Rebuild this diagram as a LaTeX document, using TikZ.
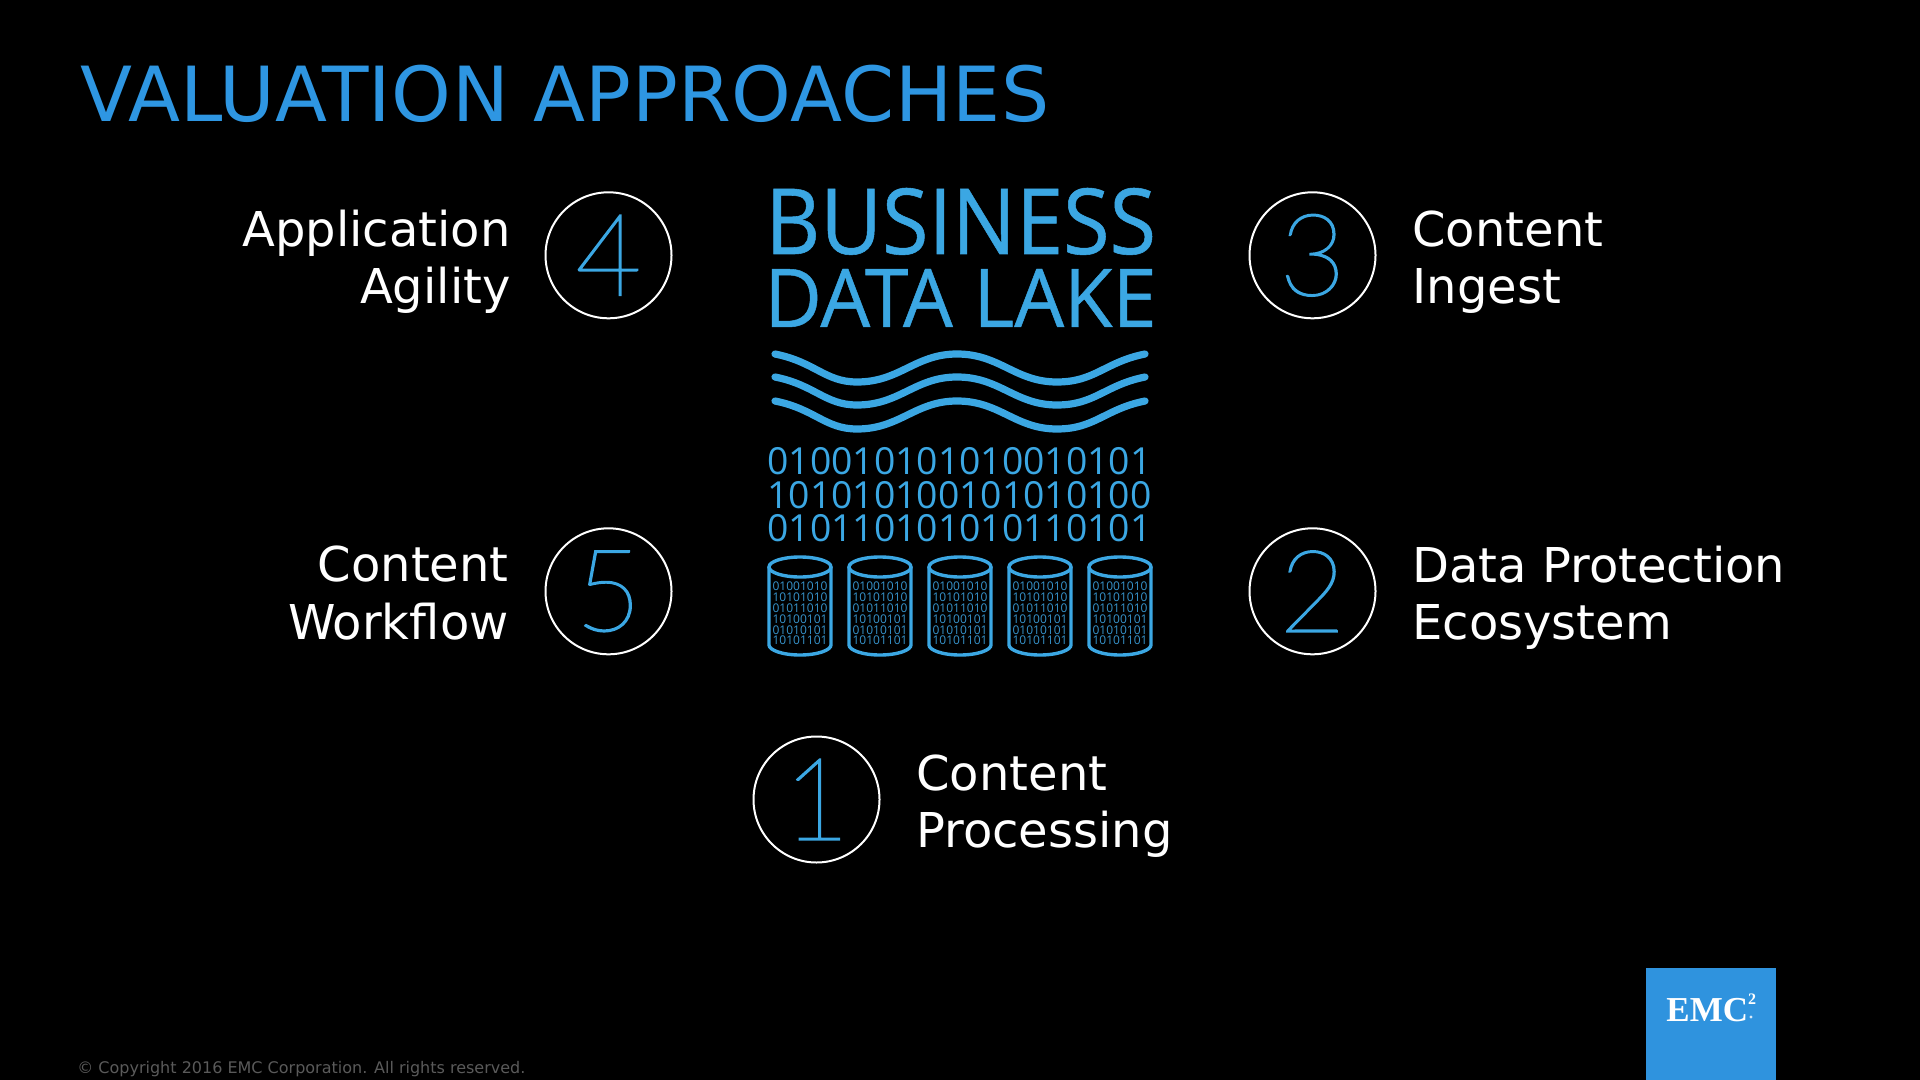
\documentclass[tikz,border=0pt]{standalone}
\usepackage{fontspec}
\setmainfont{DejaVu Sans}
\newfontfamily\titlefont[LetterSpace=0.6]{DejaVu Sans}
\newfontfamily\lakefont[FakeBold=0.6]{Open Sans}
\newfontfamily\bitfont{Open Sans}
\newfontfamily\digitfont[FakeBold=1.6]{Lato Thin}
\newfontfamily\logofont{Liberation Serif}
\definecolor{titleblue}{HTML}{2E96E2}
\definecolor{lakeblue}{HTML}{3BA7E3}
\definecolor{dimblue}{HTML}{3794CC}
\definecolor{logoblue}{HTML}{2F93DE}
\definecolor{footgray}{HTML}{5A5A5A}
\newcommand{\fs}[1]{\fontsize{#1}{#1}\selectfont}
\tikzset{
  px/.style={x=0.5pt,y=-0.5pt},
  numcircle/.style={circle,draw=white,line width=1pt,minimum size=63pt,inner sep=0pt,
    text=lakeblue,font=\digitfont\fs{57}},
  caption/.style={text=white,inner sep=0pt,font=\fontsize{24}{28.75}\selectfont},
  leftcap/.style={caption,align=right,anchor=east},
  rightcap/.style={caption,align=left,anchor=west},
  lakeline/.style={text=lakeblue,inner sep=0pt,anchor=base west},
  wave/.style={draw=lakeblue,line width=3.6pt,line cap=round},
  drum/.style={draw=lakeblue,line width=1.7pt},
  bits/.style={text=dimblue,inner sep=0pt,anchor=base,font=\bitfont\fs{6}},
}
\begin{document}
\begin{tikzpicture}[px]
\useasboundingbox (0,0) rectangle (1920,1080);
\fill[black] (0,0) rectangle (1920,1080);
\node[text=titleblue,inner sep=0pt,anchor=base west,font=\titlefont\fs{38}] (title) at (80,122) {VALUATION APPROACHES};
\node[lakeline] (business) at (765,254) {\resizebox{195.3pt}{33pt}{\lakefont BUSINESS}};
\node[lakeline] (datalake) at (764,327) {\resizebox{196pt}{29pt}{\lakefont DATA LAKE}};
\foreach \o in {0,23,47}{
  \draw[wave] (775,354+\o) .. controls (815,362+\o) and (825,382+\o) .. (857,382+\o)
    .. controls (900,382+\o) and (915,354+\o) .. (957,354+\o)
    .. controls (1000,354+\o) and (1015,382+\o) .. (1057,382+\o)
    .. controls (1095,382+\o) and (1105,362+\o) .. (1145,354+\o);
}
\node[lakeline] (bitsa) at (767,474) {\resizebox{192pt}{!}{\bitfont 010010101010010101}};
\node[lakeline] (bitsb) at (767,508) {\resizebox{192pt}{!}{\bitfont 101010100101010100}};
\node[lakeline] (bitsc) at (767,541) {\resizebox{192pt}{!}{\bitfont 010110101010110101}};
\foreach \c in {800,880,960,1040,1120}{
  \draw[drum] (\c-31,567) -- (\c-31,645) .. controls (\c-31,650) and (\c-18,655) .. (\c,655)
     .. controls (\c+18,655) and (\c+31,650) .. (\c+31,645) -- (\c+31,567);
  \draw[drum] (\c,567) ellipse [x radius=31,y radius=10];
  \node[bits] (bits\c a) at (\c,590) {01001010};
  \node[bits] (bits\c b) at (\c,601) {10101010};
  \node[bits] (bits\c c) at (\c,612) {01011010};
  \node[bits] (bits\c d) at (\c,623) {10100101};
  \node[bits] (bits\c e) at (\c,634) {01010101};
  \node[bits] (bits\c f) at (\c,644.5) {10101101};
}
\node[numcircle] (n4) at (608.5,255.3) {4};
\node[numcircle] (n3) at (1312.5,255.3) {3};
\node[numcircle] (n5) at (608.5,591.3) {5};
\node[numcircle] (n2) at (1312.5,591.3) {2};
\node[numcircle] (n1) at (816.5,799.5) {1};
\node[leftcap] (l4) at (511,262) {Application\\Agility};
\node[rightcap] (l3) at (1412,262) {Content\\Ingest};
\node[leftcap] (l5) at (509,593) {Content\\Workflow};
\node[rightcap] (l2) at (1412,598) {Data Protection\\Ecosystem};
\node[rightcap] (l1) at (916,806) {Content\\Processing};
\fill[logoblue] (1646,968) rectangle (1776,1080);
\node[text=white,inner sep=0pt,anchor=base west,font=\logofont\bfseries\fs{17.5}] (emc) at (1666,1021) {EMC};
\node[text=white,inner sep=0pt,anchor=center,font=\logofont\bfseries\fs{8}] (two) at (1752,999) {2};
\fill[white!80!logoblue] (1751,1017) circle (1.6);
\node[text=footgray,inner sep=0pt,anchor=base west,font=\fs{8}] (copy) at (77,1073) {© Copyright 2016 EMC Corporation. All rights reserved.};
\end{tikzpicture}
\end{document}
